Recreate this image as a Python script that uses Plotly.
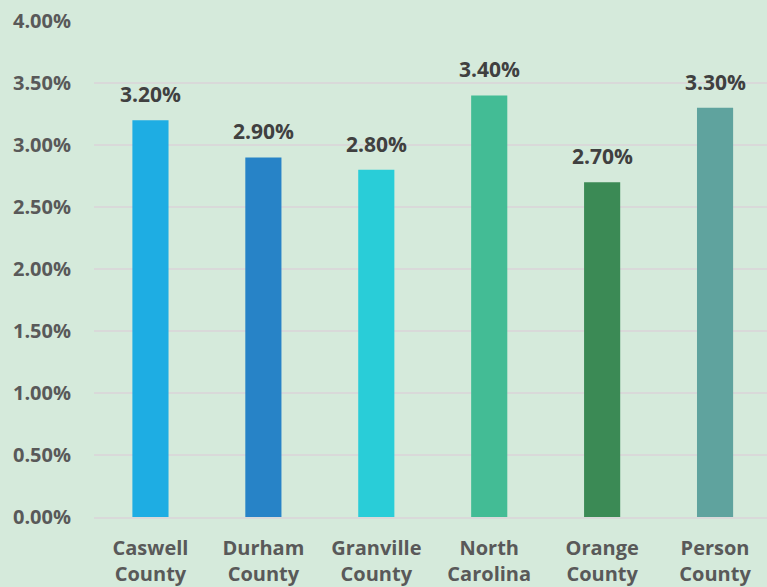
import plotly.graph_objects as go

categories = ["Caswell<br>County", "Durham<br>County", "Granville<br>County",
              "North<br>Carolina", "Orange<br>County", "Person<br>County"]
values = [0.032, 0.029, 0.028, 0.034, 0.027, 0.033]
colors = ["#1eade3", "#2783c7", "#29cdd8", "#43bc95", "#3b8a55", "#5fa39e"]
y_ticks = [0, 0.005, 0.01, 0.015, 0.02, 0.025, 0.03, 0.035, 0.04]

FONT = "'Open Sans', sans-serif"

fig = go.Figure()
fig.add_trace(go.Bar(
    x=categories,
    y=values,
    marker=dict(color=colors, line=dict(width=0)),
    width=0.32,
    hoverinfo="x+y",
))

for c, v in zip(categories, values):
    fig.add_annotation(
        x=c, y=v, text=f"{v*100:.2f}%",
        showarrow=False, yanchor="bottom", yshift=10,
        font=dict(family=FONT, size=21, color="#404040", weight="bold"),
    )

fig.update_layout(
    width=767, height=587,
    margin=dict(l=94, r=0, t=21, b=68),
    paper_bgcolor="#d5eadb",
    plot_bgcolor="#d5eadb",
    showlegend=False,
    font=dict(family=FONT, color="#595959"),
    xaxis=dict(
        range=[-0.5, 5.46],
        showgrid=False,
        showline=True, linecolor="#d9d9d9", linewidth=2,
        ticks="outside", ticklen=12, tickcolor="rgba(0,0,0,0)",
        tickfont=dict(family=FONT, size=20, color="#595959", weight="bold"),
    ),
    yaxis=dict(
        range=[0, 0.04],
        tickvals=y_ticks,
        ticktext=[f"{t*100:.2f}%" for t in y_ticks],
        showgrid=True, gridcolor="#d9d9d9", gridwidth=2,
        zeroline=False,
        showline=False,
        ticks="outside", ticklen=18, tickcolor="rgba(0,0,0,0)",
        tickfont=dict(family=FONT, size=20, color="#595959", weight="bold"),
    ),
)

fig.write_html(
    "out.html",
    config={"displayModeBar": False},
    post_script="document.body.style.margin='0';document.body.style.padding='0';",
)
